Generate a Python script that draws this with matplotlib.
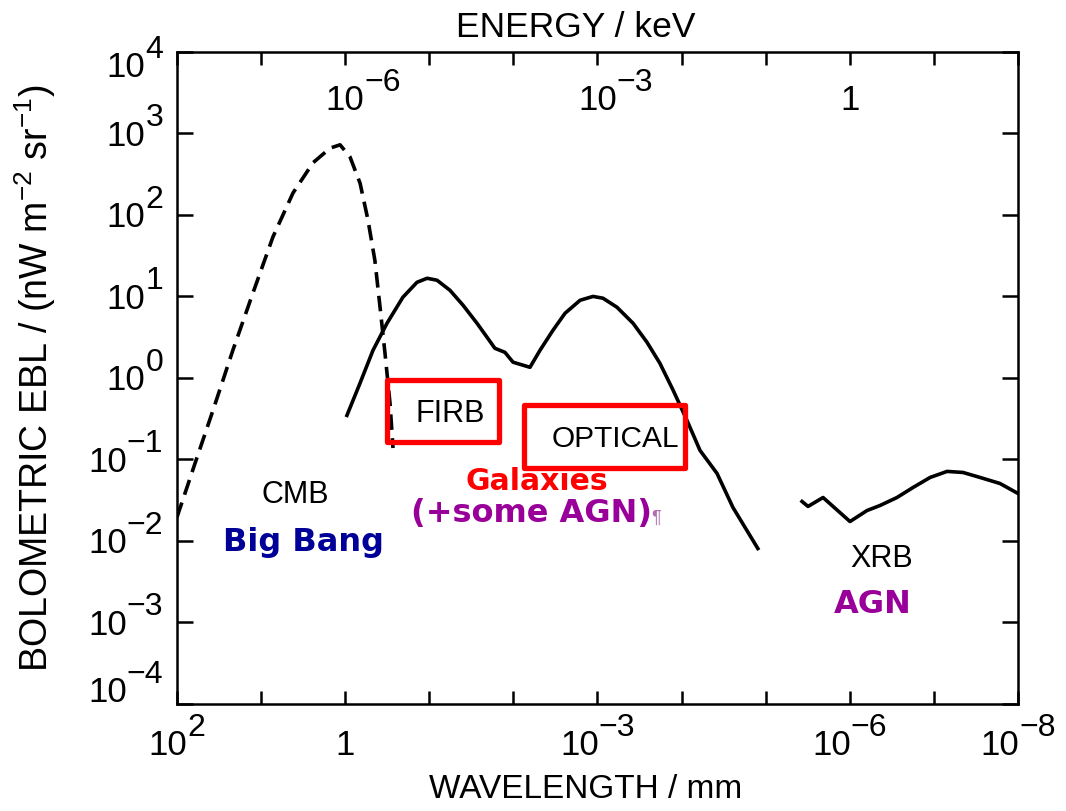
import matplotlib
matplotlib.use('Agg')
import matplotlib.pyplot as plt
from matplotlib.font_manager import FontProperties
from matplotlib.patches import Rectangle
from matplotlib.ticker import LogLocator, NullLocator, NullFormatter
from matplotlib.textpath import text_to_path
from matplotlib.transforms import blended_transform_factory

FONT = 'Liberation Sans'
BOLD = 'DejaVu Sans'
TICK_SIZE = 25
MINUS = '\u2212'

# cosmic microwave background (dashed)
cmb_wl = [100, 61.1, 37.3, 21.6, 12.5, 7.21, 4.17, 2.41, 1.51, 1.15,
          0.875, 0.665, 0.536, 0.443, 0.385, 0.336, 0.293, 0.270]
cmb_ebl = [0.0195, 0.089, 0.40, 2.2, 11.0, 54, 186, 437, 660, 725,
           513, 245, 87, 27.5, 7.4, 2.0, 0.49, 0.138]

# far-IR + optical background from galaxies
gal_wl = [0.953, 0.667, 0.467, 0.318, 0.206, 0.140, 0.106, 0.0809, 0.0568,
          0.0397, 0.0271, 0.0206, 0.0166, 0.0126, 0.0101, 0.00635, 0.00483,
          0.00338, 0.00243, 0.00161, 0.00113, 8.61e-4, 5.86e-4, 3.78e-4,
          2.58e-4, 1.81e-4, 1.26e-4, 8.63e-5, 6.04e-5, 3.79e-5, 2.45e-5,
          1.24e-5]
gal_ebl = [0.347, 0.859, 2.18, 4.69, 9.77, 14.9, 16.7, 15.8, 11.9, 7.80,
           4.69, 3.16, 2.31, 2.06, 1.56, 1.35, 2.18, 3.85, 6.22, 8.97, 10.0,
           9.51, 7.36, 4.69, 2.74, 1.51, 0.705, 0.301, 0.129, 0.0673, 0.0257,
           0.00807]

# X-ray background
xrb_wl = [3.70e-6, 3.14e-6, 2.08e-6, 9.95e-7, 6.25e-7, 4.38e-7, 2.75e-7,
          1.77e-7, 1.11e-7, 6.98e-8, 4.51e-8, 2.83e-8, 1.64e-8, 1.0e-8]
xrb_ebl = [0.0305, 0.0265, 0.0341, 0.0173, 0.0236, 0.0272, 0.0341, 0.0453,
           0.0601, 0.0713, 0.0692, 0.0601, 0.0507, 0.0382]

# boxes around the FIRB and optical bands: (wl_left, wl_right, ebl_low, ebl_high)
firb_box = [0.314, 0.0150, 0.162, 0.948]
optical_box = [7.38e-3, 9.0e-5, 0.0787, 0.468]

x_decades = [2, 0, -3, -6, -8]
y_decades = [-4, -3, -2, -1, 0, 1, 2, 3, 4]
energy_wl = [1, 1e-3, 1e-6]
energy_exp = ['-6', '-3', None]


def width_pt(s, size):
    prop = FontProperties(family=FONT, size=size)
    w, _, _ = text_to_path.get_text_width_height_descent(s, prop, ismath=False)
    return w


def power_label(ax, xy, trans, exp, dx=0.0, dy=0.0, align='center',
                size=TICK_SIZE):
    """Draw 10^exp with a full-height exponent, offset in points from xy."""
    exp = exp.replace('-', MINUS)
    esize = size * 0.92
    wb = width_pt('10', size)
    we = width_pt(exp, esize)
    gap = 0.0
    if align == 'center':
        x0 = dx - (wb + gap + we) / 2
    elif align == 'right':
        x0 = dx - (wb + gap + we)
    else:  # "10" centred on the tick
        x0 = dx - wb / 2
    base_y = dy - 0.358 * size
    kw = dict(xy=xy, xycoords=trans, textcoords='offset points', ha='left',
              va='baseline', family=FONT, annotation_clip=False)
    ax.annotate('10', xytext=(x0, base_y), fontsize=size, **kw)
    ax.annotate(exp, xytext=(x0 + wb + gap, base_y + 0.56 * size),
                fontsize=esize, **kw)


def plain_label(ax, xy, trans, s, dy=0.0, size=TICK_SIZE):
    ax.annotate(s, xy=xy, xycoords=trans, xytext=(0, dy - 0.358 * size),
                textcoords='offset points', ha='center', va='baseline',
                family=FONT, fontsize=size, annotation_clip=False)


plt.rcParams['mathtext.fontset'] = 'custom'
plt.rcParams['mathtext.rm'] = FONT
plt.rcParams['mathtext.it'] = FONT + ':italic'

fig = plt.figure(figsize=(10.66, 8.11), dpi=100)
ax = fig.add_axes([0.166, 0.132, 0.789, 0.804])

ax.plot(cmb_wl, cmb_ebl, color='black', lw=2.6, ls=(0, (4.3, 2.3)))
ax.plot(gal_wl, gal_ebl, color='black', lw=2.6)
ax.plot(xrb_wl, xrb_ebl, color='black', lw=2.6)

for x0, x1, y0, y1 in (firb_box, optical_box):
    ax.add_patch(Rectangle((x0, y0), x1 - x0, y1 - y0, fill=False,
                           edgecolor='#ff0000', lw=3.8, joinstyle='round',
                           zorder=5))

ax.set_xscale('log')
ax.set_yscale('log')
ax.set_xlim(1e2, 1e-8)
ax.set_ylim(1e-4, 1e4)
ax.xaxis.set_major_locator(LogLocator(base=10, numticks=20))
ax.yaxis.set_major_locator(LogLocator(base=10, numticks=20))
ax.xaxis.set_minor_locator(NullLocator())
ax.yaxis.set_minor_locator(NullLocator())
ax.xaxis.set_major_formatter(NullFormatter())
ax.yaxis.set_major_formatter(NullFormatter())
ax.tick_params(which='major', direction='in', top=True, right=True,
               width=1.8, color='black')
ax.tick_params(axis='x', length=9.4)
ax.tick_params(axis='y', length=11.5)
for sp in ax.spines.values():
    sp.set_linewidth(1.8)

# tick labels
xtrans = blended_transform_factory(ax.transData, ax.transAxes)
ytrans = blended_transform_factory(ax.transAxes, ax.transData)
for e in x_decades:
    if e == 0:
        plain_label(ax, (1, 0), xtrans, '1', dy=-28)
    else:
        power_label(ax, (10.0 ** e, 0), xtrans, str(e), dy=-28)
for e in y_decades:
    shift = {4: -9.4, -4: 10.0}.get(e, 0.0)
    power_label(ax, (0, 10.0 ** e), ytrans, str(e), dx=-10, dy=shift,
                align='right')
for wl, e in zip(energy_wl, energy_exp):
    if e is None:
        plain_label(ax, (wl, 1), xtrans, '1', dy=-33)
    else:
        power_label(ax, (wl, 1), xtrans, e, dy=-33, align='base')

# axis titles
fig.text(0.5403, 0.9544, 'ENERGY / keV', ha='center', va='baseline',
         family=FONT, fontsize=25.5)
fig.text(0.5497, 0.0160, 'WAVELENGTH / mm', ha='center', va='baseline',
         family=FONT, fontsize=24)
fig.text(0.033, 0.534, r'BOLOMETRIC EBL / (nW m$^{-2}$ sr$^{-1}$)',
         rotation=90, ha='center', va='center', family=FONT, fontsize=27)

# band labels
t = ax.transAxes
ax.text(0.1403, 0.3083, 'CMB', transform=t, ha='center', va='baseline',
        family=FONT, fontsize=22)
ax.text(0.3246, 0.4325, 'FIRB', transform=t, ha='center', va='baseline',
        family=FONT, fontsize=22)
ax.text(0.5208, 0.3942, 'OPTICAL', transform=t, ha='center', va='baseline',
        family=FONT, fontsize=21.5)
ax.text(0.8377, 0.2101, 'XRB', transform=t, ha='center', va='baseline',
        family=FONT, fontsize=22)

ax.text(0.1504, 0.2347, 'Big Bang', transform=t, ha='center',
        va='baseline', family=BOLD, weight='bold', fontsize=23,
        color='#000099')
ax.text(0.4275, 0.3282, 'Galaxies', transform=t, ha='center',
        va='baseline', family=BOLD, weight='bold', fontsize=21.5,
        color='#ff0000')
ax.text(0.4221, 0.2791, '(+some AGN)', transform=t, ha='center',
        va='baseline', family=BOLD, weight='bold', fontsize=23,
        color='#990099')
ax.text(0.5636, 0.2776, '\u00b6', transform=t, ha='left', va='baseline',
        family=FONT, fontsize=13, color='#b070b0')
ax.text(0.8270, 0.1396, 'AGN', transform=t, ha='center', va='baseline',
        family=BOLD, weight='bold', fontsize=23, color='#990099')

fig.savefig('out.png', dpi=100)
